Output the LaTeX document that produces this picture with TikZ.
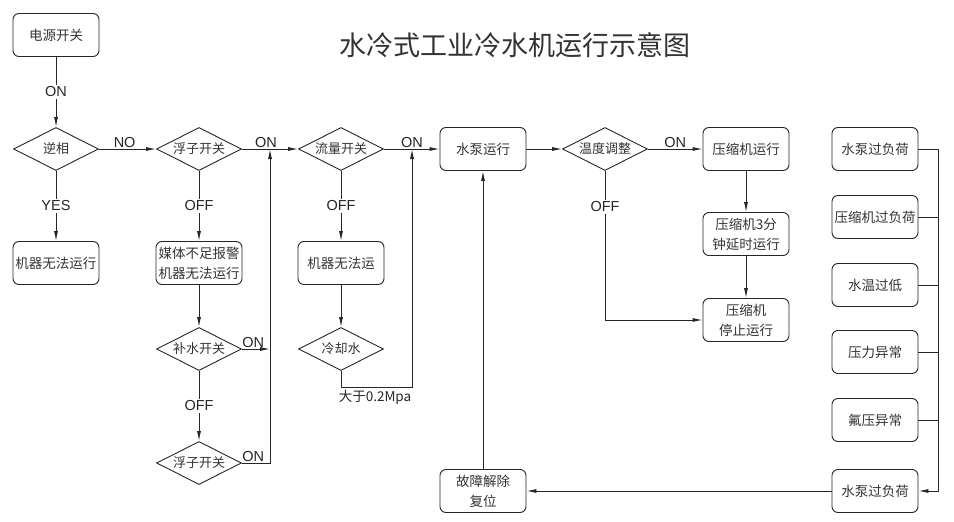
\documentclass[tikz,border=0pt]{standalone}
\usepackage{fontspec}
\setmainfont{Liberation Sans}
\newfontfamily\cjk{Noto Sans CJK SC}
\usetikzlibrary{shapes.geometric,arrows.meta}
\tikzset{
  line/.style={draw=black!85, line width=0.9pt},
  arr/.style={line, -{Latex[length=10pt,width=4pt]}},
  box/.style={line, rounded corners=6pt, minimum width=86pt, minimum height=43pt, inner sep=0pt, align=center, font=\cjk\fontsize{13.5}{20}\selectfont, text=black!80},
  dia/.style={line, diamond, aspect=2, minimum width=85pt, minimum height=43pt, inner sep=0pt, font=\cjk\fontsize{13}{16}\selectfont, text=black!80},
  lab/.style={fill=white, inner sep=2pt, font=\fontsize{14.5}{16}\selectfont, text=black!85},
  labup/.style={inner sep=1pt, font=\fontsize{14.5}{16}\selectfont, text=black!85}
}
\begin{document}
\begin{tikzpicture}[x=1pt,y=-1pt]
\useasboundingbox (0,0) rectangle (954,522);
\node[font=\cjk\fontsize{27}{30}\selectfont, text=black!80] (title) at (515,45) {水冷式工业冷水机运行示意图};
% column 1
\node[box] (pwr) at (56,35) {电源开关};
\node[dia] (ni) at (56,149) {逆相};
\node[box] (norun1) at (56,263) {机器无法运行};
% column 2
\node[dia] (fz1) at (199,149) {浮子开关};
\node[box] (mt) at (199,263) {媒体不足报警\\机器无法运行};
\node[dia] (bs) at (199,349) {补水开关};
\node[dia] (fz2) at (199,463) {浮子开关};
\coordinate (j1) at (270,149);
\coordinate (j1b) at (270,349);
\coordinate (j1c) at (270,463);
% column 3
\node[dia] (lf) at (341,149) {流量开关};
\node[box] (norun2) at (341,263) {机器无法运};
\node[dia] (lq) at (341,349) {冷却水};
\coordinate (j2) at (412,149);
\coordinate (q1) at (341,387);
\coordinate (q2) at (412,387);
% pump
\node[box] (pump) at (483,149) {水泵运行};
\node[box] (reset) at (483,491) {故障解除\\复位};
% temp
\node[dia] (temp) at (605,149) {温度调整};
\coordinate (t1) at (605,320);
\node[box] (comp) at (746,149) {压缩机运行};
\node[box] (delay) at (746,234) {压缩机3分\\钟延时运行};
\node[box] (stop) at (746,320) {压缩机\\停止运行};
% right column
\node[box] (r1) at (875,149) {水泵过负荷};
\node[box] (r2) at (875,217) {压缩机过负荷};
\node[box] (r3) at (875,285) {水温过低};
\node[box] (r4) at (875,352) {压力异常};
\node[box] (r5) at (875,420) {氟压异常};
\node[box] (r6) at (875,491) {水泵过负荷};
\coordinate (b1) at (938,149);
\coordinate (b2) at (938,217);
\coordinate (b3) at (938,285);
\coordinate (b4) at (938,352);
\coordinate (b5) at (938,420);
\coordinate (b6) at (938,491);
% connectors
\draw[arr] (pwr) -- node[lab, pos=0.5] {ON} (ni);
\draw[arr] (ni) -- node[labup, above, pos=0.45] {NO} (fz1);
\draw[arr] (ni) -- node[lab, pos=0.5] {YES} (norun1);
\draw[arr] (fz1) -- (lf);
\node[labup, above] (onA) at (266,149) {ON};
\draw[arr] (fz1) -- node[lab, pos=0.5] {OFF} (mt);
\draw[arr] (mt) -- (bs);
\draw[arr] (bs.east) -- node[labup, above, pos=0.4] {ON} (j1b);
\draw[arr] (bs) -- node[lab, pos=0.5] {OFF} (fz2);
\draw[arr] (fz2.east) -- node[labup, above, pos=0.4] {ON} (j1c) -- (j1);
\draw[arr] (lf) -- (pump);
\node[labup, above] (onB) at (412,149) {ON};
\draw[arr] (lf) -- node[lab, pos=0.5] {OFF} (norun2);
\draw[arr] (norun2) -- (lq);
\draw[arr] (lq.south) -- (q1) -- (q2) -- (j2);
\node[font=\cjk\fontsize{13.5}{15}\selectfont, text=black!85, below, inner sep=2pt] (gt) at (375,388) {大于0.2Mpa};
\draw[arr] (pump) -- (temp);
\draw[arr] (temp) -- node[labup, above, pos=0.5] {ON} (comp);
\draw[arr] (comp) -- (delay);
\draw[arr] (delay) -- (stop);
\draw[line] (temp.south) -- node[lab, pos=0.24] {OFF} (t1);
\draw[arr] (t1) -- (stop.west);
\draw[line] (r1.east) -- (b1);
\draw[line] (r2.east) -- (b2);
\draw[line] (r3.east) -- (b3);
\draw[line] (r4.east) -- (b4);
\draw[line] (r5.east) -- (b5);
\draw[arr] (b1) -- (b6) -- (r6.east);
\draw[arr] (r6) -- (reset);
\draw[arr] (reset) -- (pump);
\end{tikzpicture}
\end{document}
